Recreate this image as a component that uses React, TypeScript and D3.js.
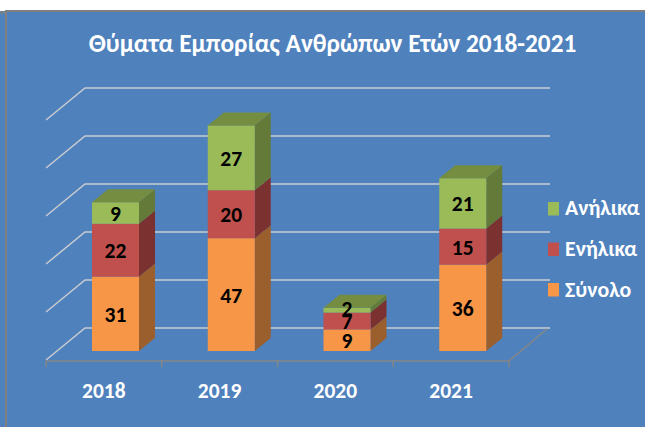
import React from "react";
import * as d3 from "d3";

const categories = ["2018", "2019", "2020", "2021"];
const totalSeries = [31, 47, 9, 36];
const adultSeries = [22, 20, 7, 15];
const minorSeries = [9, 27, 2, 21];
const seriesNames = ["Σύνολο", "Ενήλικα", "Ανήλικα"];
const seriesFronts = ["#f79646", "#c0504d", "#9bbb59"];
const seriesTops = ["#b8702f", "#8a3a38", "#748d41"];
const seriesSides = ["#9a5f2c", "#7c3131", "#647a38"];
const gridValues = [0, 20, 40, 60, 80, 100];
const title = "Θύματα Εμπορίας Ανθρώπων Ετών 2018-2021";
const font = "Carlito, Lato, 'Open Sans', 'Noto Sans', sans-serif";

export default function App() {
  const W = 645, H = 427;
  const dx = 39, dy = -32;
  const barDx = 16, barDy = -13;
  const x = d3.scaleBand<string>().domain(categories).range([46, 509]).paddingInner(0).paddingOuter(0);
  const y = d3.scaleLinear().domain([0, 100]).range([360, 120]);
  const h = d3.scaleLinear().domain([0, 100]).range([0, 240]);
  const series = [totalSeries, adultSeries, minorSeries];
  const floorY = 351;
  const barW = 47;
  const grid = "#c9ccd0";
  const axis = "#868686";
  return (
    <svg width={W} height={H} style={{ position: "fixed", left: 0, top: 0, display: "block" }} fontFamily={font}>
      <rect width={W} height={H} fill="#ffffff" />
      <rect x={0} y={11} width={W} height={H - 11} fill="#4f81bd" />
      <line x1={6} x2={W} y1={11} y2={11} stroke="#808080" strokeWidth={2} />
      <line x1={0} x2={6} y1={12.5} y2={12.5} stroke="#808080" strokeWidth={2} />
      <line x1={6} x2={6} y1={10} y2={H} stroke="#808080" strokeWidth={2} />
      <text x={332.5} y={51.5} textAnchor="middle" fill="#fff" fontSize={25.3} fontWeight={700}>{title}</text>
      {gridValues.map(v => (
        <path key={v} d={`M${46},${y(v)}L${46 + dx},${y(v) + dy}H${509 + dx + 2}`} fill="none" stroke={grid} strokeWidth={1.5} />
      ))}
      <path d={`M46,${y(0) + 1}H509L${509 + dx - 1},${y(0) + dy + 1}`} fill="none" stroke={axis} strokeWidth={1.5} />
      {d3.range(5).map(i => {
        const tx = 46 + i * x.bandwidth();
        return <line key={i} x1={tx} x2={tx} y1={361} y2={367} stroke={axis} strokeWidth={1.5} />;
      })}
      {categories.map((c, i) => {
        const bx = x(c)! + 46;
        let base = floorY;
        return (
          <g key={c}>
            {series.map((s, k) => {
              const bh = h(s[i]);
              const top = base - bh;
              const seg = (
                <g key={k}>
                  <path d={`M${bx + barW},${top}l${barDx},${barDy}V${base + barDy}l${-barDx},${-barDy}Z`} fill={seriesSides[k]} />
                  <rect x={bx} y={top} width={barW} height={bh} fill={seriesFronts[k]} />
                  {k === 2 && <path d={`M${bx},${top}l${barDx},${barDy}h${barW}l${-barDx},${-barDy}Z`} fill={seriesTops[k]} />}
                </g>
              );
              base = top;
              return seg;
            })}
          </g>
        );
      })}
      {categories.map((c, i) => {
        const bx = x(c)! + 46 + barW / 2;
        let base = floorY;
        return series.map((s, k) => {
          const bh = h(s[i]);
          const cy = base - bh / 2;
          base -= bh;
          return (
            <text key={c + k} x={bx} y={cy + (bh < 6 ? 5.5 : 8)} textAnchor="middle" fill="#000" fontSize={21.5} fontWeight={700}>{s[i]}</text>
          );
        });
      })}
      {categories.map(c => (
        <text key={c} x={x(c)! + x.bandwidth() / 2} y={398} textAnchor="middle" fill="#fff" fontSize={21.5} fontWeight={700}>{c}</text>
      ))}
      {[2, 1, 0].map((k, i) => (
        <g key={k}>
          <rect x={548} y={202 + i * 40.5} width={11} height={13.5} fill={seriesFronts[k]} />
          <text x={565} y={215 + i * 41} fill="#fff" fontSize={21.8} fontWeight={700}>{seriesNames[k]}</text>
        </g>
      ))}
    </svg>
  );
}
